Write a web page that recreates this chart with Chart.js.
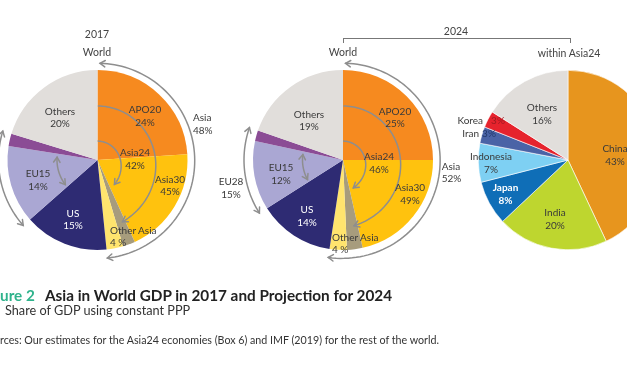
<!DOCTYPE html>
<html>
<head>
<meta charset="utf-8">
<script src="https://cdn.jsdelivr.net/npm/chart.js@4.4.1/dist/chart.umd.min.js"></script>
<style>
  html, body { margin: 0; padding: 0; background: #fff; overflow: hidden; }
  body { position: relative; width: 627px; height: 376px; font-family: Lato, "Open Sans", sans-serif; color: #3a3a3a; }
  canvas { position: absolute; left: 0; top: 0; }
  .lbl { position: absolute; transform: translate(-50%, -50%); white-space: nowrap; font-size: 10px; line-height: 12.5px; text-align: center; }
  .lft { transform: translate(0, -50%); text-align: left; }
  .rgt { transform: translate(-100%, -50%); text-align: right; }
  .ttl { font-size: 10.5px; color: #444; }
  .cap { position: absolute; left: 0; white-space: nowrap; color: #222; }
</style>
</head>
<body>
<canvas id="pie2017" width="627" height="376"></canvas>
<canvas id="pie2024" width="627" height="376"></canvas>
<canvas id="pieAsia" width="700" height="376"></canvas>
<div id="labels"></div>
<div style="position:absolute;left:343px;top:38px;width:226px;height:4px;border:1px solid #777;border-bottom:none;"></div>
<div class="cap" style="top:286px;font-size:15.3px;font-weight:bold;"><span style="color:#2fb38c">ure 2</span></div>
<div class="cap" style="top:286px;left:45px;font-size:15.3px;font-weight:bold;">Asia in World GDP in 2017 and Projection for 2024</div>
<div class="cap" style="top:302px;left:5px;font-size:12.7px;color:#333;">Share of GDP using constant PPP</div>
<div class="cap" style="top:333px;font-size:10.7px;color:#333;">rces: Our estimates for the Asia24 economies (Box 6) and IMF (2019) for the rest of the world.</div>
<script>
// world shares (%), clockwise from 12 o'clock
const worldCategories = ['APO20', 'Other Asia30', 'Asia30 rest', 'Other Asia', 'US', 'EU15', 'Other EU28', 'Others'];
const values2017 = [24, 19.2, 2.2, 3.0, 15.1, 14, 2.2, 20.3];
const values2024 = [25, 21.5, 2.8, 3.1, 13.6, 12.4, 1.9, 19.7];
const asia24Share = [42, 46]; // 2017, 2024

// within Asia24, 2024
const asiaCategories = ['China', 'India', 'Japan', 'Indonesia', 'Iran', 'Korea', 'Others'];
const asiaValues = [43, 20, 8, 7, 3, 3, 16];

const worldColors = ['#f68a1f', '#ffc20e', '#a79c7d', '#ffe46e', '#2e2b73', '#aaa7d3', '#8b4c95', '#e1dedb'];
const asiaColors = ['#e7951e', '#bed62f', '#0f6eb7', '#7ed0f3', '#4a63a6', '#e6232d', '#e1dedb'];

// text: [lines, x, y, class, style]
const labelList = [
  ['2017', 97, 34, 'ttl'], ['World', 97, 52, 'ttl'],
  ['World', 343, 52, 'ttl'], ['2024', 456, 31, 'ttl'], ['within Asia24', 569, 53, 'ttl'],
  ['Others<br>20%', 60, 116.5], ['APO20<br>24%', 145, 115], ['Asia24<br>42%', 135, 158],
  ['Asia30<br>45%', 170, 184.5], ['Other Asia<br>4 %', 110, 235.5, 'lft'],
  ['US<br>15%', 73, 218.5, '', 'color:#fff'], ['EU15<br>14%', 38, 179], ['Asia<br>48%', 193, 123, 'lft'],
  ['Others<br>19%', 309, 119.5], ['APO20<br>25%', 395, 116.5], ['Asia24<br>46%', 379, 162],
  ['Asia30<br>49%', 410, 193], ['Other Asia<br>4 %', 332, 242.7, 'lft'],
  ['US<br>14%', 307, 215.3, '', 'color:#fff'], ['EU15<br>12%', 281, 173], ['EU28<br>15%', 231, 187],
  ['Asia<br>52%', 441.7, 171.5, 'lft'],
  ['Others<br>16%', 542, 113.3], ['Korea', 483, 120, 'rgt'], ['3%', 498, 120, '', 'color:#9e1b22'],
  ['Iran', 479, 132.5, 'rgt'], ['3%', 489, 132.5, '', 'color:#22386b'],
  ['Indonesia<br>7%', 491, 162], ['Japan<br>8%', 505.5, 193, '', 'color:#fff;font-weight:bold'],
  ['India<br>20%', 555, 218.3], ['China<br>43%', 615, 154]
];
const holder = document.getElementById('labels');
labelList.forEach(l => {
  const d = document.createElement('div');
  d.className = 'lbl ' + (l[3] || '');
  d.style.cssText = 'left:' + l[1] + 'px;top:' + l[2] + 'px;' + (l[4] || '');
  d.innerHTML = l[0];
  holder.appendChild(d);
});

function angleOf(arcs, spec) {
  let a;
  if (spec.share !== undefined) a = -Math.PI / 2 + 2 * Math.PI * spec.share / 100;
  else {
    const arc = arcs[spec.slice];
    a = arc.startAngle + (spec.at || 0) * (arc.endAngle - arc.startAngle);
  }
  return a + (spec.deg || 0) * Math.PI / 180;
}

function head(ctx, p, q) {
  // chevron at p, pointing away from q
  const dx = p[0] - q[0], dy = p[1] - q[1];
  const len = Math.hypot(dx, dy) || 1;
  const ux = dx / len, uy = dy / len;
  ctx.beginPath();
  ctx.moveTo(p[0] - 5 * ux + 3.2 * uy, p[1] - 5 * uy - 3.2 * ux);
  ctx.lineTo(p[0], p[1]);
  ctx.lineTo(p[0] - 5 * ux - 3.2 * uy, p[1] - 5 * uy + 3.2 * ux);
  ctx.stroke();
}

const arrowPlugin = {
  id: 'arrows',
  afterDatasetsDraw(chart, args, opts) {
    const arcs = chart.getDatasetMeta(0).data;
    if (!arcs.length) return;
    const ctx = chart.ctx;
    const cx = arcs[0].x, cy = arcs[0].y, R = arcs[0].outerRadius;
    ctx.save();
    ctx.strokeStyle = '#8e8e8e';
    ctx.lineWidth = 1.5;
    ctx.lineCap = 'round';
    (opts.items || []).forEach(it => {
      const a0 = angleOf(arcs, it.from), a1 = angleOf(arcs, it.to);
      const pts = [];
      for (let i = 0; i <= 80; i++) {
        const t = i / 80;
        const a = a0 + (a1 - a0) * t;
        const r = R * (it.r0 + (it.r1 - it.r0) * t * t);
        pts.push([cx + r * Math.cos(a), cy + r * Math.sin(a)]);
      }
      ctx.beginPath();
      pts.forEach((p, i) => i ? ctx.lineTo(p[0], p[1]) : ctx.moveTo(p[0], p[1]));
      ctx.stroke();
      if (it.startHead) head(ctx, pts[0], pts[3]);
      if (it.endHead) head(ctx, pts[80], pts[77]);
    });
    ctx.restore();
  }
};

function worldArrows(i) {
  return [
    { from: { slice: 0, deg: 1.5 }, to: { slice: 3, at: 1 }, r0: 1.075, r1: 1.095, startHead: true, endHead: true },
    { from: { slice: 5 }, to: { slice: 6, at: 1 }, r0: 1.1, r1: 1.1, startHead: true, endHead: true },
    { from: { slice: 0, deg: 1 }, to: { slice: 2, at: 0.3 }, r0: 0.6, r1: 0.74, endHead: true },
    { from: { slice: 0, deg: 2 }, to: { share: asia24Share[i], deg: -6 }, r0: 0.21, r1: 0.33, endHead: true },
    { from: { slice: 5, at: 0.08 }, to: { slice: 5, at: 0.9 }, r0: 0.45, r1: 0.45, startHead: true, endHead: true }
  ];
}

function pie(id, values, colors, cats, pad, items, bw) {
  return new Chart(document.getElementById(id), {
    type: 'pie',
    data: {
      labels: cats,
      datasets: [{ data: values, backgroundColor: colors, borderWidth: bw, borderColor: '#fff' }]
    },
    options: {
      responsive: false,
      animation: false,
      events: [],
      layout: { padding: pad },
      plugins: {
        legend: { display: false },
        tooltip: { enabled: false },
        arrows: { items: items }
      }
    },
    plugins: [arrowPlugin]
  });
}

pie('pie2017', values2017, worldColors, worldCategories,
  { left: 7.5, top: 70, right: 439.5, bottom: 126 }, worldArrows(0), 0);
pie('pie2024', values2024, worldColors, worldCategories,
  { left: 253, top: 70, right: 194, bottom: 126 }, worldArrows(1), 0);
pie('pieAsia', asiaValues, asiaColors, asiaCategories,
  { left: 478, top: 70, right: 42, bottom: 126 }, [], 0.6);
</script>
</body>
</html>
